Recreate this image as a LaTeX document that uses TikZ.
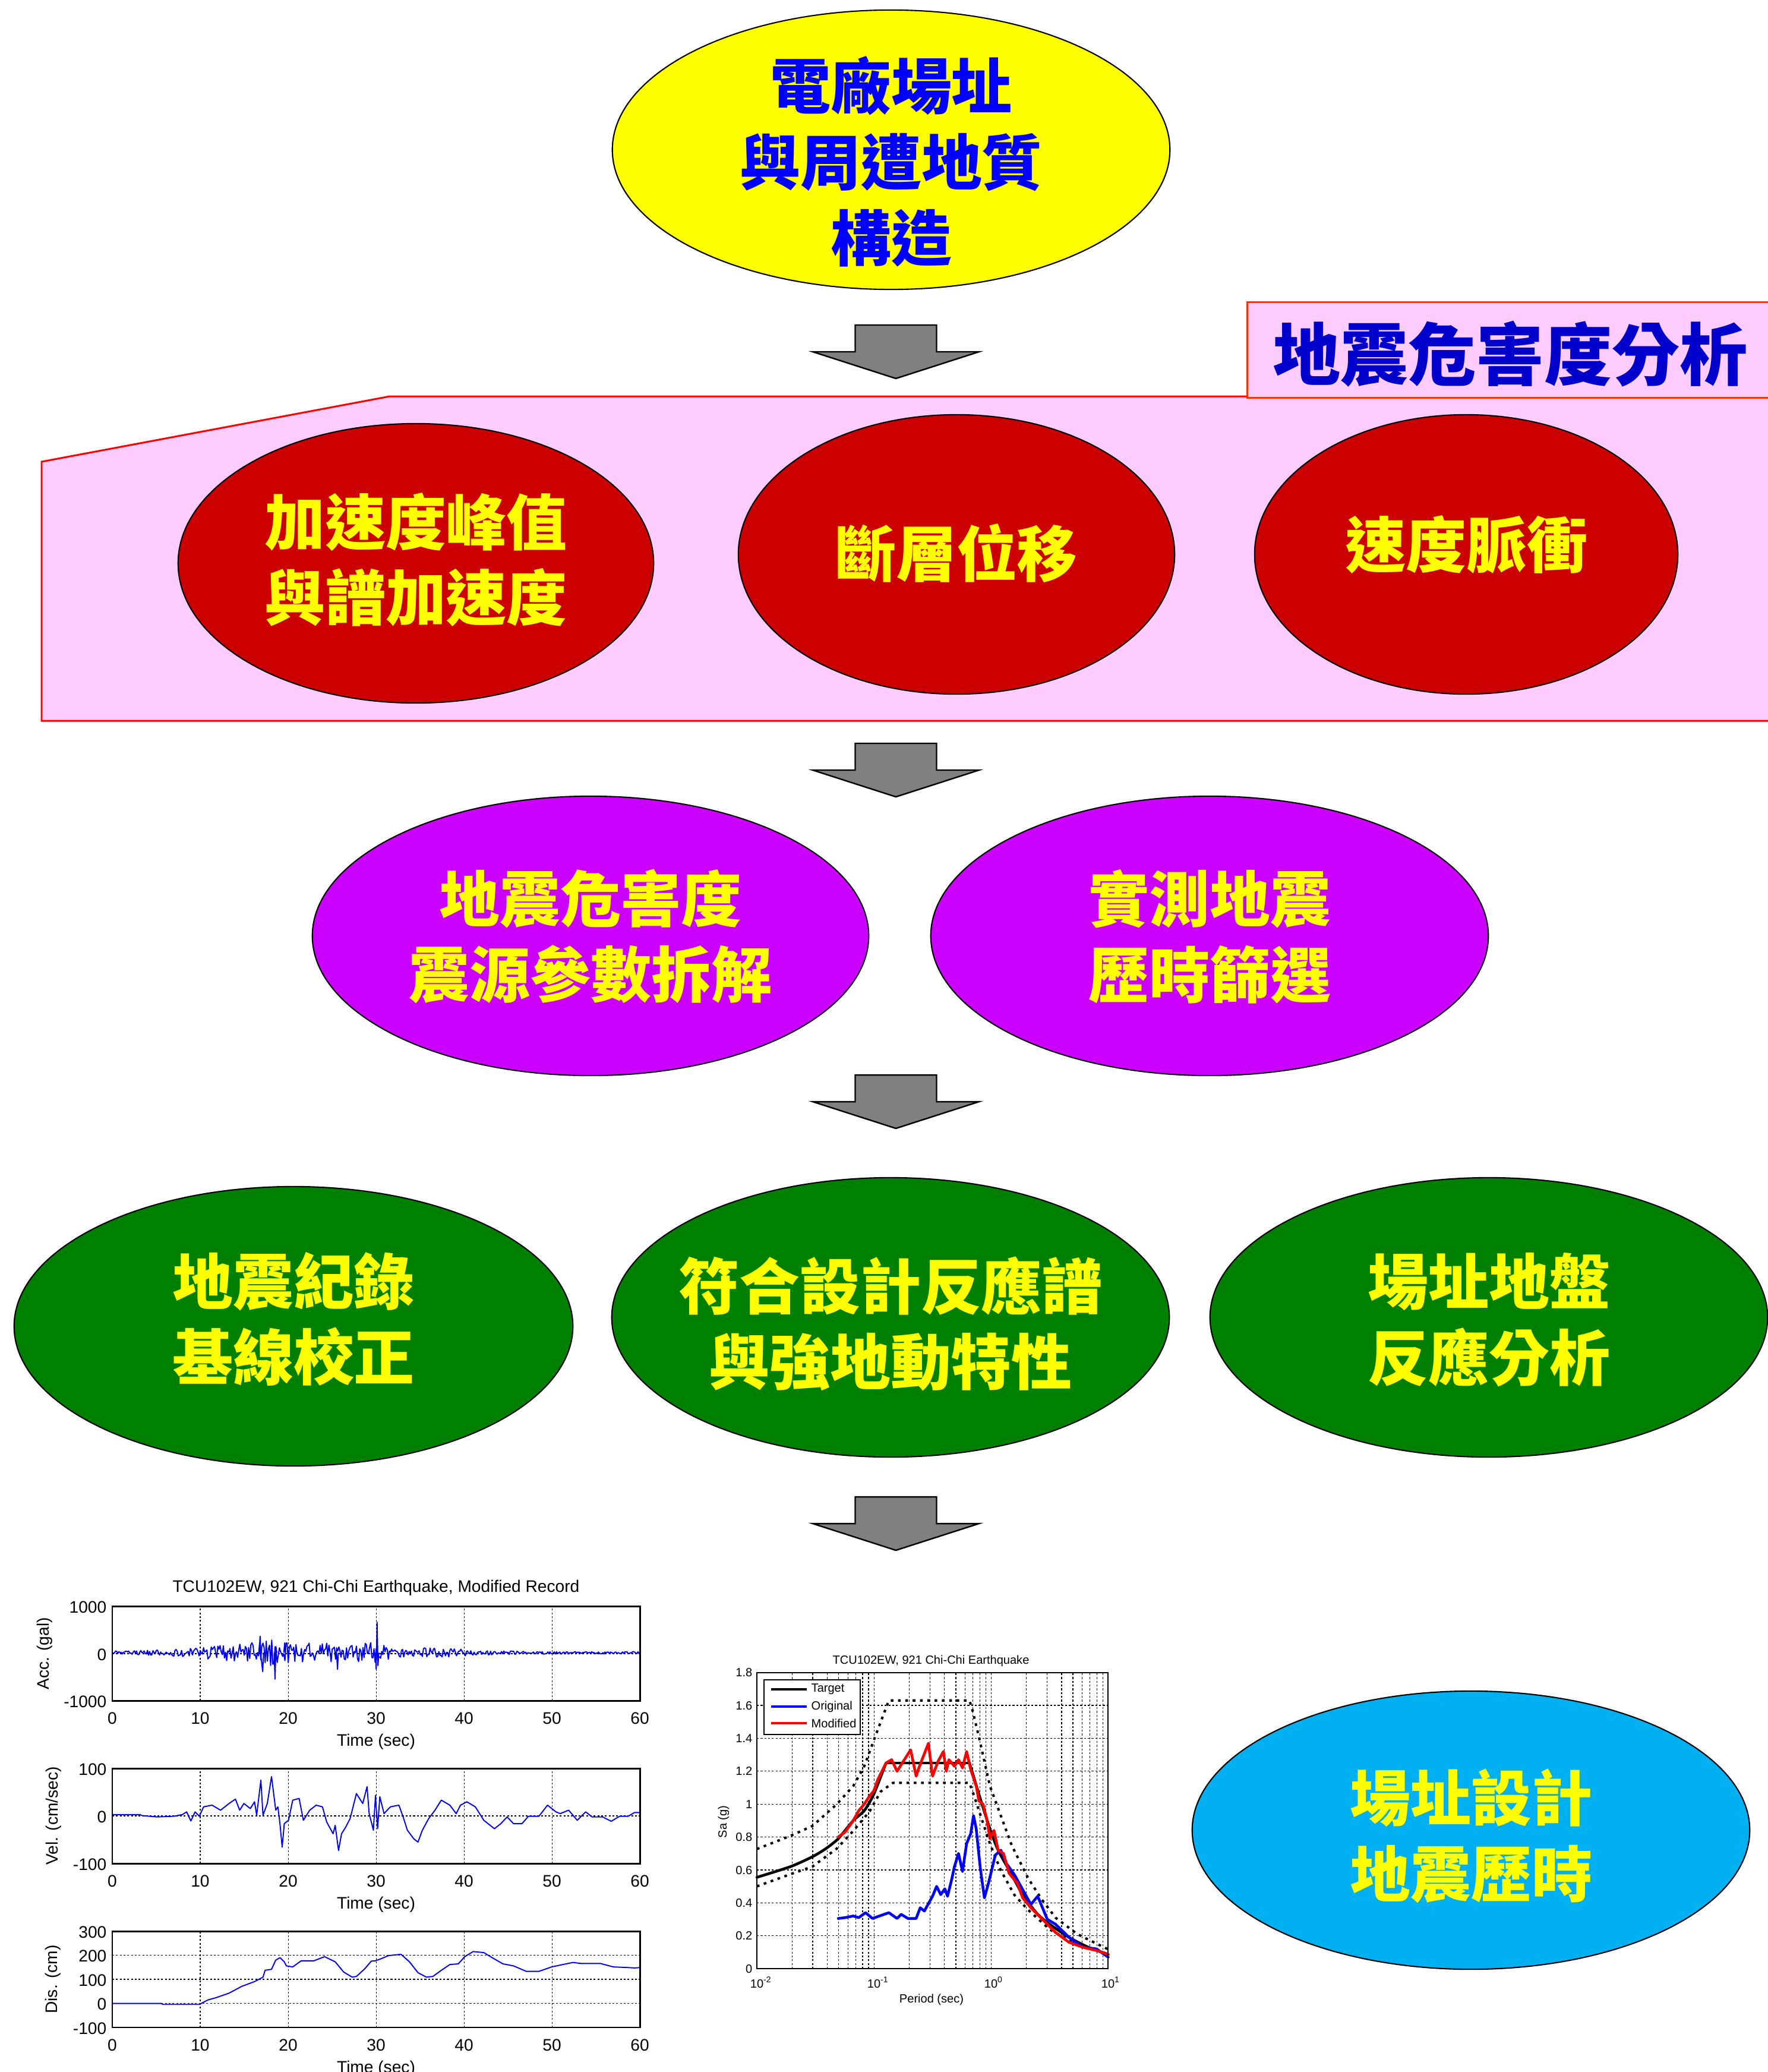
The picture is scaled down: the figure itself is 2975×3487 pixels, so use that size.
\documentclass[tikz,border=0pt]{standalone}
\usepackage{fontspec}
\newfontfamily\cjk{Noto Sans CJK TC}
\newfontfamily\arial{Liberation Sans}
\usetikzlibrary{shapes.geometric}
\definecolor{ylw}{RGB}{255,255,0}
\definecolor{pinkbg}{RGB}{255,204,255}
\definecolor{dred}{RGB}{204,0,0}
\definecolor{mag}{RGB}{204,0,255}
\definecolor{grn}{RGB}{0,128,0}
\definecolor{cyn}{RGB}{0,176,240}
\definecolor{lblue}{RGB}{0,0,204}
\definecolor{tblue}{RGB}{0,0,255}
\definecolor{lborder}{RGB}{255,51,0}
\definecolor{agray}{RGB}{128,128,128}
\begin{document}
\begin{tikzpicture}[x=0.01cm, y=-0.01cm,
  ell/.style={ellipse, draw=black, line width=0.6pt, inner sep=0pt, minimum height=4.70cm},
  cjkt/.style={font=\cjk\bfseries\fontsize{29pt}{36.3pt}\selectfont, align=center, text=ylw, inner sep=0pt},
  tk/.style={font=\arial\fontsize{8pt}{9.6pt}\selectfont, inner sep=0pt},
  stk/.style={font=\arial\fontsize{5.7pt}{6.8pt}\selectfont, inner sep=0pt},
  gridl/.style={black, line width=0.35pt, dash pattern=on 0.9pt off 0.9pt},
  axbox/.style={black, line width=0.85pt},
  sig/.style={tblue, line width=0.55pt, line join=round},
  bnd/.style={black, line width=1.15pt, dash pattern=on 1.3pt off 2.2pt},
  spc/.style={line width=1.3pt, line join=round, line cap=round},
  downarrow/.pic={\draw[fill=agray, line width=0.7pt, line join=miter] (-68.5,0) -- (68.5,0) -- (68.5,45) -- (140,45) -- (0,90) -- (-140,45) -- (-68.5,45) -- cycle;},
  declare function={accenv(\t)=20+1440/(16+(\t-12)*(\t-12))+1800/(9+(\t-18)*(\t-18))+812/(6.25+(\t-24)*(\t-24))+680/(4+(\t-29.5)*(\t-29.5))+630/(9+(\t-37)*(\t-37));}
]
\useasboundingbox (0,0) rectangle (2975,3487);
\fill[white] (0,0) rectangle (2975,3487);

% ---------- top ellipse ----------
\node[ell, fill=ylw, minimum width=9.38cm] (top) at (1500,252) {};
\node[cjkt, text=tblue] (toptxt) at (1500,272) {電廠場址\\與周遭地質\\構造};

\pic (arr1) at (1508,547) {downarrow};

% ---------- hazard analysis panel ----------
\draw[fill=pinkbg, draw=red, line width=0.85pt] (70,777) -- (656,667) -- (2990,667) -- (2990,1213) -- (70,1213) -- cycle;
\node[draw=lborder, fill=pinkbg, line width=0.85pt, anchor=north west, minimum width=8.95cm, minimum height=1.61cm, inner sep=0pt] (lbl) at (2098,507) {};
\node[font=\cjk\bfseries\fontsize{32.5pt}{36pt}\selectfont, text=lblue, inner sep=0pt] (lbltxt) at (2542,596) {地震危害度分析};

\node[ell, fill=dred, minimum width=8.00cm] (r1) at (700,948) {};
\node[ell, fill=dred, minimum width=7.34cm] (r2) at (1610,933) {};
\node[ell, fill=dred, minimum width=7.12cm] (r3) at (2468,933) {};
\node[cjkt] (r1t) at (700,942) {加速度峰值\\與譜加速度};
\node[cjkt] (r2t) at (1610,931) {斷層位移};
\node[cjkt] (r3t) at (2468,917) {速度脈衝};

\pic (arr2) at (1508,1251) {downarrow};

% ---------- magenta row ----------
\node[ell, fill=mag, minimum width=9.36cm] (m1) at (994,1575) {};
\node[ell, fill=mag, minimum width=9.38cm] (m2) at (2036,1575) {};
\node[cjkt] (m1t) at (994,1576) {地震危害度\\震源參數拆解};
\node[cjkt] (m2t) at (2036,1576) {實測地震\\歷時篩選};

\pic (arr3) at (1508,1809) {downarrow};

% ---------- green row ----------
\node[ell, fill=grn, minimum width=9.40cm] (g1) at (494,2232) {};
\node[ell, fill=grn, minimum width=9.38cm] (g2) at (1499,2217) {};
\node[ell, fill=grn, minimum width=9.38cm] (g3) at (2506,2217) {};
\node[cjkt] (g1t) at (494,2220) {地震紀錄\\基線校正};
\node[cjkt] (g2t) at (1499,2228) {符合設計反應譜\\與強地動特性};
\node[cjkt] (g3t) at (2506,2221) {場址地盤\\反應分析};

\pic (arr4) at (1508,2519) {downarrow};

% ---------- cyan ellipse ----------
\node[ell, fill=cyn, minimum width=9.38cm, minimum height=4.68cm] (c1) at (2476,3080) {};
\node[cjkt] (c1t) at (2476,3090) {場址設計\\地震歷時};

% ---------- time histories ----------
\node[tk, anchor=base] (thtitle) at (633,2679) {TCU102EW, 921 Chi-Chi Earthquake, Modified Record};

% plot 1: acceleration
\begin{scope}[shift={(189,2783)}, x=0.148cm, y=0.000795cm]
  \foreach \t in {10,20,...,50} \draw[gridl] (\t,-1000) -- (\t,1000);
  \draw[gridl] (0,0) -- (60,0);
  \pgfmathsetseed{7}
  \draw[sig] plot[domain=0:60, samples=481] (\x, {20+accenv(\x)*rand});
  \draw[sig] (16.7,20) -- (16.8,370) -- (16.9,-60) -- (17.1,-380) -- (17.2,20);
  \draw[sig] (18.4,20) -- (18.5,-540) -- (18.6,150) -- (18.7,20);
  \draw[sig] (19.5,20) -- (19.6,230) -- (19.7,20);
  \draw[sig] (25.5,20) -- (25.6,-330) -- (25.7,20);
  \draw[sig] (29.9,20) -- (30.0,-330) -- (30.1,670) -- (30.2,-250) -- (30.3,20);
  \draw[axbox] (0,-1000) rectangle (60,1000);
\end{scope}
\foreach \t in {0,10,...,60} \node[tk, anchor=base] (xa\t) at ({189+14.8*\t},2901) {\t};
\node[tk, anchor=base] (xla) at (633,2938) {Time (sec)};
\node[tk, anchor=base east] (ya1) at (180,2714) {1000};
\node[tk, anchor=base east] (ya2) at (180,2794) {0};
\node[tk, anchor=base east] (ya3) at (180,2873) {-1000};
\node[tk, rotate=90] (yla) at (75,2783) {Acc. (gal)};

% plot 2: velocity
\begin{scope}[shift={(189,3056)}, x=0.148cm, y=0.008cm]
  \foreach \t in {10,20,...,50} \draw[gridl] (\t,-100) -- (\t,100);
  \draw[gridl] (0,0) -- (60,0);
  \draw[sig] plot coordinates {(0,2.8) (3.14,2.8) (3.38,0.7) (5.07,-2.1) (7.0,-0.7) (7.96,2.8) (8.45,8.5) (8.93,-10.6) (9.41,8.5) (9.89,-0.7) (10.38,19.1) (11.34,22.6) (12.31,12.0) (13.27,26.1) (14.0,35.3) (14.48,12.0) (14.96,26.1) (15.69,15.5) (16.17,29.7) (16.41,1.4) (16.89,75.3) (17.13,1.4) (17.62,26.1) (18.10,82.7) (18.58,12.0) (18.82,19.1) (19.06,-16.3) (19.31,-65.7) (19.55,-16.3) (20.03,-9.2) (20.51,33.2) (21.24,36.7) (21.72,-9.2) (22.44,12.0) (23.17,22.6) (23.89,19.1) (24.37,-12.7) (25.10,-37.5) (25.34,-19.8) (25.72,-72.8) (26.06,-37.5) (26.54,-23.3) (27.03,-5.7) (27.75,47.0) (28.47,26.1) (28.96,61.5) (29.20,4.9) (29.68,-30.0) (29.92,43.5) (30.16,-26.9) (30.41,40.6) (30.89,4.9) (31.61,19.1) (32.58,22.6) (33.06,-2.1) (33.54,-30.0) (34.27,-48.1) (34.75,-55.1) (35.23,-30.7) (35.96,-5.7) (36.68,12.0) (37.40,33.2) (38.37,22.6) (39.09,4.9) (39.58,22.6) (40.30,29.7) (41.27,19.1) (42.23,-9.2) (43.44,-26.9) (44.16,-16.3) (44.88,-2.1) (45.61,-16.3) (46.57,-16.3) (47.30,-0.7) (48.50,-0.7) (49.47,22.6) (50.43,8.5) (50.92,4.9) (51.88,12.0) (52.85,-9.2) (53.81,8.5) (54.54,-2.1) (55.74,-2.1) (56.71,-11.3) (57.67,-0.7) (58.64,-0.7) (59.36,7.1) (60,7.1)};
  \draw[axbox] (0,-100) rectangle (60,100);
\end{scope}
\foreach \t in {0,10,...,60} \node[tk, anchor=base] (xb\t) at ({189+14.8*\t},3175) {\t};
\node[tk, anchor=base] (xlb) at (633,3212) {Time (sec)};
\node[tk, anchor=base east] (yb1) at (180,2987) {100};
\node[tk, anchor=base east] (yb2) at (180,3067) {0};
\node[tk, anchor=base east] (yb3) at (180,3147) {-100};
\node[tk, rotate=90] (ylb) at (90,3056) {Vel. (cm/sec)};

% plot 3: displacement
\begin{scope}[shift={(189,3371.5)}, x=0.148cm, y=0.00405cm]
  \foreach \t in {10,20,...,50} \draw[gridl] (\t,-100) -- (\t,300);
  \foreach \v in {0,100,200} \draw[gridl] (0,\v) -- (60,\v);
  \draw[sig] plot coordinates {(0,0) (5.55,0) (5.79,-4.3) (9.89,-4.3) (10.86,14.2) (11.82,24.1) (13.27,42.6) (14.72,70.9) (16.17,90.8) (17.13,109.2) (17.37,137.6) (18.10,141.8) (18.58,180.1) (19.06,190.1) (19.55,173.0) (19.79,156.0) (20.51,151.8) (21.48,177.3) (22.92,177.3) (24.13,194.3) (25.34,173.0) (26.30,130.5) (27.27,109.2) (27.75,112.1) (28.72,144.7) (29.44,175.9) (29.92,177.3) (30.65,187.2) (31.37,198.6) (32.82,204.3) (33.78,173.0) (34.75,127.7) (35.71,109.2) (36.44,112.1) (37.40,137.6) (38.37,161.7) (39.33,164.5) (40.06,194.3) (41.02,215.6) (42.23,211.3) (43.19,190.1) (44.40,164.5) (45.61,156.0) (47.06,133.3) (48.50,133.3) (49.95,151.8) (51.40,163.1) (52.36,170.2) (53.33,165.9) (55.50,165.9) (56.95,151.8) (58.64,149.0) (59.36,147.5) (60,149.0)};
  \draw[axbox] (0,-100) rectangle (60,300);
\end{scope}
\foreach \t in {0,10,...,60} \node[tk, anchor=base] (xc\t) at ({189+14.8*\t},3451) {\t};
\node[tk, anchor=base] (xlc) at (633,3488) {Time (sec)};
\node[tk, anchor=base east] (yc1) at (180,3261) {300};
\node[tk, anchor=base east] (yc2) at (180,3301.5) {200};
\node[tk, anchor=base east] (yc3) at (180,3342) {100};
\node[tk, anchor=base east] (yc4) at (180,3382.5) {0};
\node[tk, anchor=base east] (yc5) at (180,3423) {-100};
\node[tk, rotate=90] (ylc) at (89,3331) {Dis. (cm)};

% ---------- response spectrum ----------
\node[stk, anchor=base] (sptitle) at (1567,2800) {TCU102EW, 921 Chi-Chi Earthquake};
\begin{scope}[shift={(1274,3313)}, x=1.97cm, y=2.767cm]
  \foreach \d in {0,1,2} \foreach \m in {2,...,9} \draw[gridl] ({\d+log10(\m)},0) -- ({\d+log10(\m)},1.8);
  \foreach \d in {1,2} \draw[gridl] (\d,0) -- (\d,1.8);
  \foreach \s in {0.2,0.4,0.6,0.8,1.0,1.2,1.4,1.6} \draw[gridl] (0,\s) -- (3,\s);
  \draw[bnd] plot coordinates {(0,0.727) (0.287,0.807) (0.474,0.867) (0.683,1.0) (0.823,1.11) (0.917,1.23) (1.010,1.41) (1.127,1.63) (1.815,1.63) (1.838,1.58) (1.896,1.41) (1.990,1.11) (2.083,0.93) (2.176,0.75) (2.316,0.55) (2.433,0.42) (2.550,0.31) (2.736,0.21) (3.0,0.117)};
  \draw[bnd] plot coordinates {(0,0.50) (0.287,0.574) (0.474,0.62) (0.683,0.73) (0.823,0.837) (0.963,0.956) (1.057,1.076) (1.162,1.129) (1.815,1.129) (1.850,1.06) (1.920,0.91) (1.990,0.76) (2.083,0.597) (2.200,0.447) (2.316,0.357) (2.503,0.237) (2.736,0.147) (3.0,0.087)};
  \draw[spc, black] plot[smooth, tension=0.4] coordinates {(0,0.555) (0.287,0.62) (0.474,0.68) (0.590,0.73) (0.695,0.79) (0.823,0.90) (0.917,0.96) (0.998,1.06) (1.103,1.25)};
  \draw[spc, black] (1.103,1.25) -- (1.815,1.25);
  \draw[spc, black] plot[smooth, tension=0.4] coordinates {(1.815,1.25) (1.850,1.17) (1.896,1.06) (1.990,0.85) (2.060,0.72) (2.153,0.60) (2.270,0.45) (2.386,0.34) (2.480,0.28) (2.666,0.19) (2.830,0.13) (3.0,0.087)};
  \draw[spc, tblue] plot coordinates {(0.695,0.305) (0.753,0.31) (0.823,0.32) (0.870,0.31) (0.928,0.34) (0.987,0.305) (1.127,0.34) (1.197,0.305) (1.232,0.33) (1.290,0.305) (1.360,0.305) (1.395,0.37) (1.430,0.35) (1.500,0.44) (1.535,0.50) (1.570,0.45) (1.605,0.485) (1.628,0.44) (1.663,0.54) (1.687,0.62) (1.722,0.70) (1.756,0.59) (1.791,0.76) (1.826,0.82) (1.850,0.93) (1.873,0.85) (1.908,0.61) (1.943,0.43) (1.978,0.52) (2.036,0.69) (2.083,0.72) (2.130,0.64) (2.200,0.57) (2.270,0.48) (2.340,0.39) (2.398,0.44) (2.480,0.30) (2.550,0.27) (2.666,0.19) (2.783,0.13) (2.900,0.12) (3.0,0.07)};
  \draw[spc, red] plot coordinates {(0.695,0.80) (0.753,0.83) (0.823,0.90) (0.870,0.96) (0.917,1.0) (0.963,1.05) (0.998,1.08) (1.033,1.15) (1.103,1.25) (1.150,1.27) (1.197,1.20) (1.313,1.33) (1.360,1.17) (1.383,1.22) (1.465,1.37) (1.500,1.17) (1.547,1.26) (1.593,1.32) (1.617,1.20) (1.640,1.27) (1.687,1.23) (1.722,1.27) (1.756,1.22) (1.791,1.32) (1.826,1.21) (1.873,1.11) (1.896,1.02) (1.931,1.0) (1.966,0.90) (1.990,0.79) (2.025,0.84) (2.060,0.72) (2.106,0.70) (2.153,0.58) (2.223,0.52) (2.270,0.43) (2.340,0.37) (2.410,0.32) (2.480,0.27) (2.550,0.22) (2.666,0.16) (2.783,0.13) (2.900,0.11) (3.0,0.087)};
  \draw[black, line width=0.6pt] (0,0) rectangle (3,1.8);
\end{scope}
\foreach \v/\lab [count=\i] in {0/0,0.2/0.2,0.4/0.4,0.6/0.6,0.8/0.8,1.0/1,1.2/1.2,1.4/1.4,1.6/1.6,1.8/1.8}
  \node[stk, anchor=base east] (sy\i) at (1267,{3313-\v*276.7+7}) {\lab};
\node[stk, anchor=base] (sx1) at (1274,3345) {10\rlap{\textsuperscript{-2}}};
\node[stk, anchor=base] (sx2) at (1471,3345) {10\rlap{\textsuperscript{-1}}};
\node[stk, anchor=base] (sx3) at (1668,3345) {10\rlap{\textsuperscript{0}}};
\node[stk, anchor=base] (sx4) at (1865,3345) {10\rlap{\textsuperscript{1}}};
\node[stk, anchor=base] (sxl) at (1568,3370) {Period (sec)};
\node[stk, rotate=90] (syl) at (1218,3066) {Sa (g)};
% legend
\node[draw=black, fill=white, line width=0.6pt, anchor=north west, minimum width=1.62cm, minimum height=0.92cm, inner sep=0pt] (leg) at (1285,2826) {};
\draw[spc, black, line cap=butt] (1298,2843) -- (1358,2843);
\draw[spc, tblue, line cap=butt] (1298,2872) -- (1358,2872);
\draw[spc, red, line cap=butt] (1298,2900) -- (1358,2900);
\node[stk, anchor=west] (lg1) at (1365,2843) {Target};
\node[stk, anchor=west] (lg2) at (1365,2872) {Original};
\node[stk, anchor=west] (lg3) at (1365,2900) {Modified};
\end{tikzpicture}
\end{document}
